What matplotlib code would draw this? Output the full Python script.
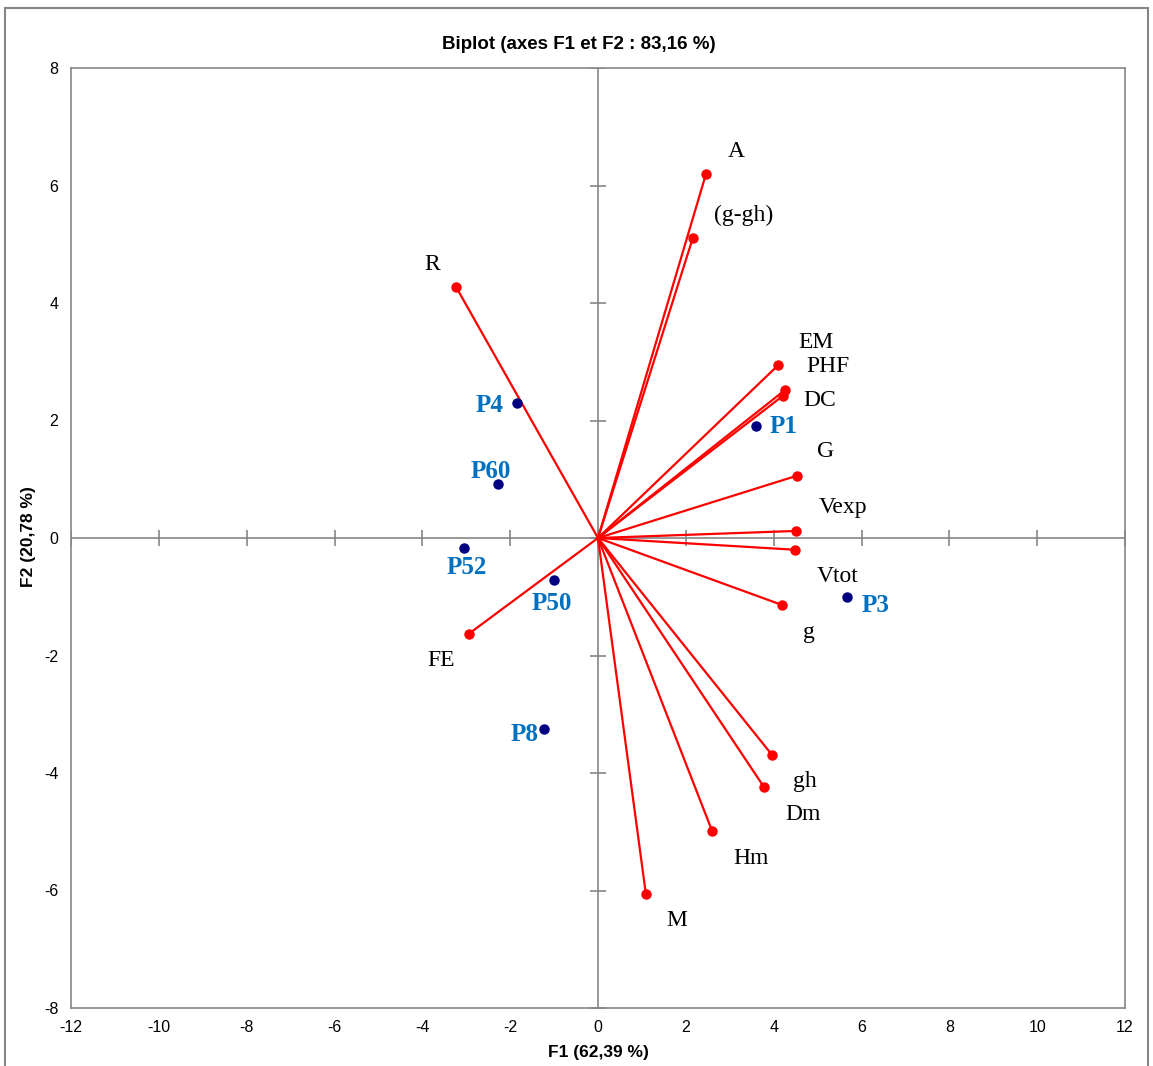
import matplotlib.pyplot as plt
from matplotlib.patches import Rectangle

plt.rcParams['axes.unicode_minus'] = False
plt.rcParams['font.family'] = ['Liberation Sans', 'DejaVu Sans']

# variables (red vectors)
var_names = ['A', '(g-gh)', 'R', 'EM', 'PHF', 'DC', 'G', 'Vexp', 'Vtot', 'g',
             'gh', 'Dm', 'Hm', 'M', 'FE']
var_f1 = [2.46, 2.16, -3.23, 4.10, 4.26, 4.21, 4.53, 4.51, 4.49, 4.19,
          3.96, 3.78, 2.60, 1.09, -2.94]
var_f2 = [6.20, 5.11, 4.27, 2.94, 2.52, 2.42, 1.06, 0.12, -0.20, -1.14,
          -3.69, -4.24, -4.99, -6.06, -1.63]

# observations (blue points)
obs_names = ['P4', 'P60', 'P52', 'P50', 'P8', 'P1', 'P3']
obs_f1 = [-1.84, -2.28, -3.05, -1.00, -1.23, 3.60, 5.67]
obs_f2 = [2.30, 0.92, -0.17, -0.71, -3.25, 1.91, -1.00]

xticks = list(range(-12, 13, 2))
yticks = list(range(-8, 9, 2))

# label offsets in pixels (dx, dy up)
var_off = {'A': (30, 22), '(g-gh)': (51, 22), 'R': (-24, 23), 'EM': (38, 23),
           'PHF': (43, 23), 'DC': (37, -5), 'G': (29, 24), 'Vexp': (47, 23),
           'Vtot': (42, -27), 'g': (27, -28), 'gh': (33, -27), 'Dm': (39, -27),
           'Hm': (39, -27), 'M': (31, -26), 'FE': (-28, -27)}
obs_off = {'P4': (-28, -3), 'P60': (-7, 12), 'P52': (3, -20), 'P50': (-2, -24),
           'P8': (-19, -6), 'P1': (27, -1), 'P3': (28, -9)}

grey = '#868686'
px = 0.72  # points per pixel at dpi 100

fig = plt.figure(figsize=(11.53, 10.66), dpi=100)
ax = fig.add_axes([71 / 1153, 1 - 1008 / 1066, (1125 - 71) / 1153, (1008 - 68) / 1066])
ax.set_xlim(-12, 12)
ax.set_ylim(-8, 8)

for s in ax.spines.values():
    s.set_color(grey)
    s.set_linewidth(1.2)

ax.axhline(0, color=grey, lw=1.2, zorder=1)
ax.axvline(0, color=grey, lw=1.2, zorder=1)
ax.plot(xticks, [0] * len(xticks), ls='none', marker='|', ms=11, mew=1.2, color=grey, zorder=1)
ax.plot([0] * len(yticks), yticks, ls='none', marker='_', ms=11, mew=1.2, color=grey, zorder=1)

ax.set_xticks(xticks)
ax.set_yticks(yticks)
ax.tick_params(length=0, pad=9, labelsize=11.5, labelcolor='black')

for n, x, y in zip(var_names, var_f1, var_f2):
    ax.plot([0, x], [0, y], color='red', lw=1.6, zorder=2)
    ax.plot(x, y, 'o', color='red', ms=6.5, zorder=3)
    dx, dy = var_off[n]
    ax.annotate(n, (x, y), xytext=(dx * px, dy * px), textcoords='offset points',
                ha='center', va='center', fontsize=17, family='Liberation Serif')

ax.plot(obs_f1, obs_f2, 'o', color='#000080', ms=6.5, ls='none', zorder=4)
for n, x, y in zip(obs_names, obs_f1, obs_f2):
    dx, dy = obs_off[n]
    ax.annotate(n, (x, y), xytext=(dx * px, dy * px), textcoords='offset points',
                ha='center', va='center', fontsize=18, fontweight='bold',
                color='#0070C0', family='Liberation Serif')

fig.text(579 / 1153, 1 - 44 / 1066, 'Biplot (axes F1 et F2 : 83,16 %)', ha='center', va='center',
         fontsize=13.5, fontweight='bold')
fig.text(598 / 1153, 1 - 1052 / 1066, 'F1 (62,39 %)', ha='center', va='center',
         fontsize=12.5, fontweight='bold')
fig.text(28 / 1153, 1 - 537 / 1066, 'F2 (20,78 %)', ha='center', va='center', rotation=90,
         fontsize=12.5, fontweight='bold')

fig.add_artist(Rectangle((5 / 1153, -0.02), (1148 - 5) / 1153, 1 - 8 / 1066 + 0.02,
                         transform=fig.transFigure, fill=False, edgecolor=grey, lw=1.5))

fig.savefig('out.png', dpi=100)
